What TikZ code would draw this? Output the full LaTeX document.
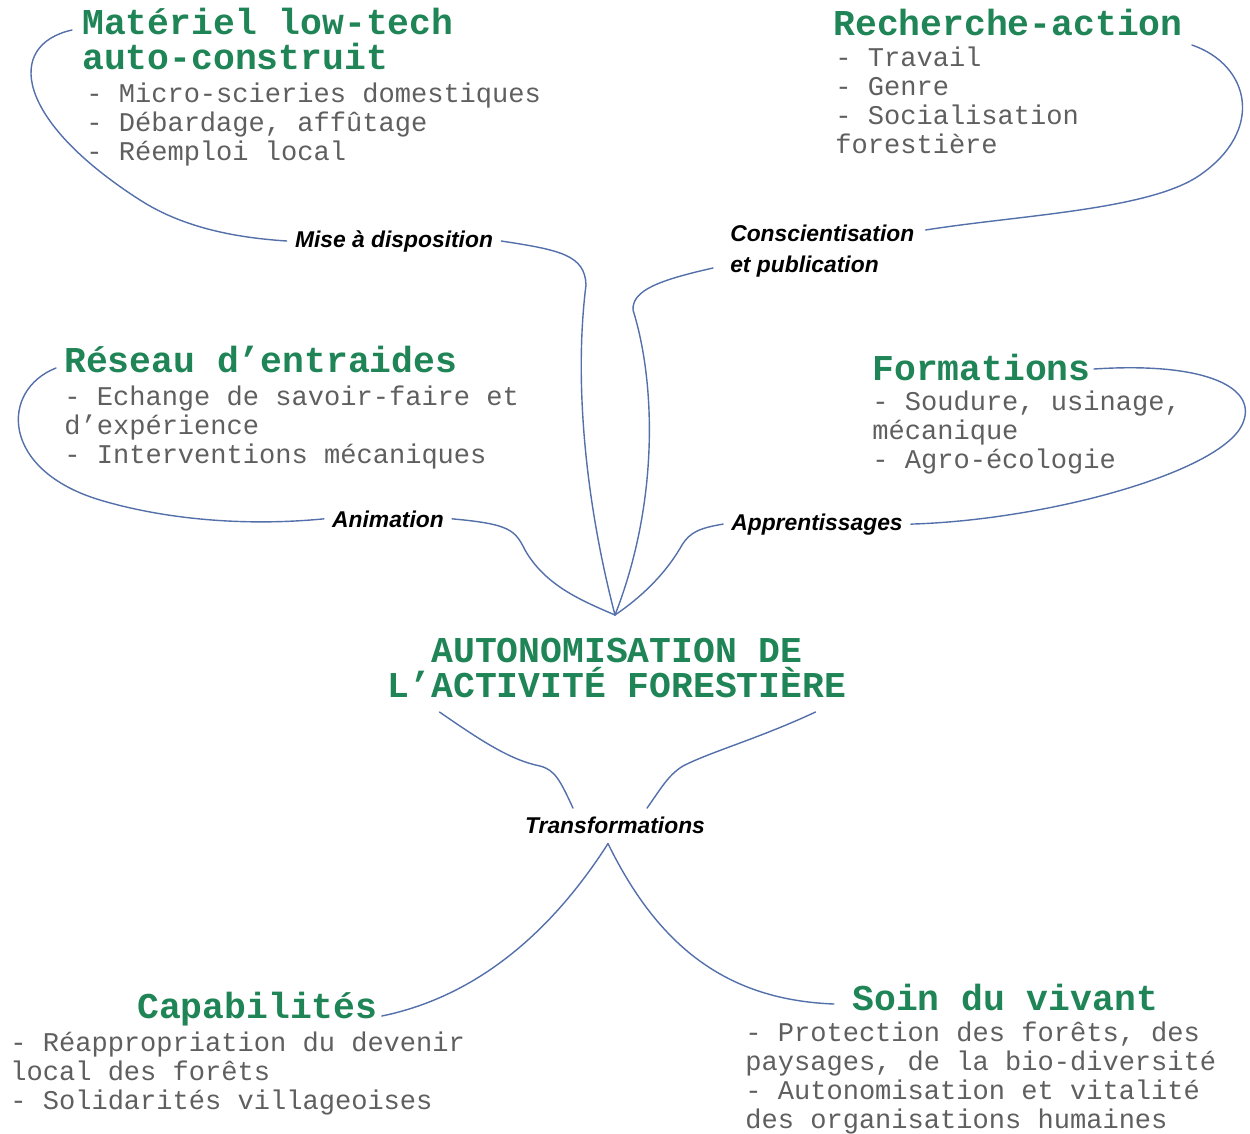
\documentclass[tikz,border=0pt]{standalone}
\usepackage{fontspec}
\newfontfamily\courfont{Liberation Mono}
\newfontfamily\labfont{Liberation Sans}
\definecolor{headgreen}{RGB}{31,132,86}
\definecolor{bodygray}{RGB}{95,95,95}
\definecolor{linkblue}{RGB}{84,112,170}
\begin{document}
\begin{tikzpicture}[x=0.02cm,y=-0.02cm, line join=round, line cap=round,
  head/.style={anchor=base west, inner sep=0pt, align=left, text=headgreen,
    font=\courfont\bfseries\fontsize{20.7}{19.9}\selectfont},
  body/.style={anchor=base west, inner sep=0pt, align=left, text=bodygray,
    font=\courfont\fontsize{15.4}{16.5}\selectfont},
  lab/.style={anchor=base, inner xsep=4.5pt, inner ysep=0pt, align=left,
    font=\labfont\bfseries\itshape\fontsize{13}{17.6}\selectfont},
  link/.style={draw=linkblue, line width=0.8pt}]
  \useasboundingbox (0,0) rectangle (1250,1133);
  % blocs (base = derniere ligne)
  \node[head] (mat) at (82,69) {Matériel low-tech\\auto-construit};
  \node[body] (matl) at (86,160) {- Micro-scieries domestiques\\- Débardage, affûtage\\- Réemploi local};
  \node[head] (rech) at (833,35) {Recherche-action};
  \node[body] (rechl) at (835,153) {- Travail\\- Genre\\- Socialisation\\forestière};
  \node[head] (res) at (64,372) {Réseau d’entraides};
  \node[body] (resl) at (64,463) {- Echange de savoir-faire et\\d’expérience\\- Interventions mécaniques};
  \node[head] (form) at (872,380) {Formations};
  \node[body] (forml) at (872,468) {- Soudure, usinage,\\mécanique\\- Agro-écologie};
  \node[head, anchor=base, align=center] (auto) at (617,697) {AUTONOMISATION DE\\L’ACTIVITÉ FORESTIÈRE};
  \node[head] (cap) at (137,1018) {Capabilités};
  \node[body] (capl) at (10,1109) {- Réappropriation du devenir\\local des forêts\\- Solidarités villageoises};
  \node[head] (soin) at (852,1010) {Soin du vivant};
  \node[body] (soinl) at (745,1128) {- Protection des forêts, des\\paysages, de la bio-diversité\\- Autonomisation et vitalité\\des organisations humaines};
  % liens
  \node[lab] (mise) at (394,247) {Mise à disposition};
  \node[lab, anchor=base west] (consc) at (722,272) {Conscientisation\\et publication};
  \node[lab] (anim) at (388,527) {Animation};
  \node[lab] (appr) at (817,530) {Apprentissages};
  \node[lab] (transf) at (615,833) {Transformations};
  \coordinate (hub) at (615,615);
  \draw[link] ([shift={(-10,-39)}]mat.base west) .. controls (5,45) and (15,120) .. (140,200)
    .. controls (185,229) and (240,238) .. (mise.west);
  \draw[link] (mise.east) .. controls (560,250) and (585,255) .. (586,285)
    .. controls (574,380) and (585,500) .. (hub);
  \draw[link] ([shift={(9,10)}]rech.base east) .. controls (1250,65) and (1265,130) .. (1200,175)
    .. controls (1150,210) and (1020,215) .. ([shift={(3,-42)}]consc.base east);
  \draw[link] ([shift={(-9,-4)}]consc.base west) .. controls (660,280) and (632,290) .. (633,310)
    .. controls (655,380) and (660,500) .. (hub);
  \draw[link] ([shift={(-8,-4)}]res.base west) .. controls (0,390) and (0,470) .. (100,500)
    .. controls (160,518) and (240,527) .. (anim.west);
  \draw[link] (anim.east) .. controls (510,524) and (515,530) .. (525,550)
    .. controls (545,585) and (580,600) .. (hub);
  \draw[link] ([shift={(3,-11)}]form.base east) .. controls (1200,362) and (1255,385) .. (1244,420)
    .. controls (1230,470) and (1050,520) .. (appr.east);
  \draw[link] (appr.west) .. controls (700,528) and (690,532) .. (682,545)
    .. controls (665,575) and (640,598) .. (hub);
  \draw[link] ([shift={(52,15)}]auto.base west) .. controls (480,740) and (510,760) .. (540,766)
    .. controls (555,770) and (560,780) .. ([shift={(-42,-8)}]transf.north);
  \draw[link] ([shift={(-31,15)}]auto.base east) .. controls (760,738) and (710,752) .. (683,766)
    .. controls (668,775) and (660,790) .. ([shift={(32,-8)}]transf.north);
  \draw[link] ([shift={(-7,10)}]transf.south) .. controls (540,950) and (460,1000) .. ([shift={(4,-2)}]cap.base east);
  \draw[link] ([shift={(-7,10)}]transf.south) .. controls (660,950) and (730,1000) .. ([shift={(-18,-6)}]soin.base west);
\end{tikzpicture}
\end{document}
